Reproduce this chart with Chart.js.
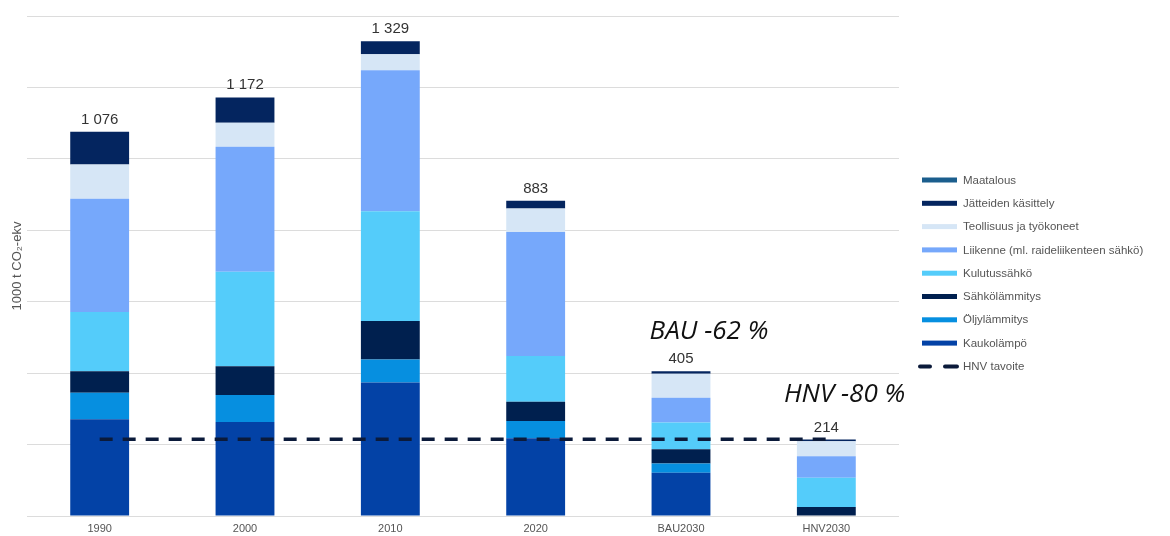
<!DOCTYPE html>
<html>
<head>
<meta charset="utf-8">
<script src="https://cdn.jsdelivr.net/npm/chart.js@4"></script>
<style>
html,body{margin:0;padding:0;background:#fff;}
#wrap{width:1170px;height:536px;position:relative;}
</style>
</head>
<body>
<div id="wrap"><canvas id="c" width="1170" height="536"></canvas></div>
<script>
// ---- data ----
const categories = ['1990', '2000', '2010', '2020', 'BAU2030', 'HNV2030'];
const kaukolampo   = [271, 263, 374, 218, 121, 0];
const oljylammitys = [74, 76, 64, 48, 26, 0];
const sahkolammitys= [60, 80, 108, 54, 40, 25];
const kulutussahko = [166, 265, 307, 128, 75, 82];
const liikenne     = [317, 350, 395, 347, 69, 60];
const teollisuus   = [96, 67, 45, 66, 67, 42];
const jatteiden    = [92, 71, 36, 22, 7, 5];
const maatalous    = [0, 0, 0, 0, 0, 0];
const hnvTavoite   = [215, 215, 215, 215, 215, 215];
const totals       = [1076, 1172, 1329, 883, 405, 214];
const totalLabels  = ['1 076', '1 172', '1 329', '883', '405', '214'];
const yTicks       = [0, 200, 400, 600, 800, 1000, 1200, 1400];
const annotations  = ['BAU -62 %', 'HNV -80 %'];

const FONT = '"Liberation Sans", Arial, sans-serif';

const series = [
  {label: 'Kaukolämpö', data: kaukolampo, color: '#0342a6'},
  {label: 'Öljylämmitys', data: oljylammitys, color: '#068fe0'},
  {label: 'Sähkölämmitys', data: sahkolammitys, color: '#00204f'},
  {label: 'Kulutussähkö', data: kulutussahko, color: '#54ccfa'},
  {label: 'Liikenne (ml. raideliikenteen sähkö)', data: liikenne, color: '#76a8fb'},
  {label: 'Teollisuus ja työkoneet', data: teollisuus, color: '#d6e6f6'},
  {label: 'Jätteiden käsittely', data: jatteiden, color: '#04255f'},
  {label: 'Maatalous', data: maatalous, color: '#1b5e8d'}
];

const datasets = series.map(s => ({
  type: 'bar',
  label: s.label,
  data: s.data,
  backgroundColor: s.color,
  borderWidth: 0,
  barPercentage: 0.81,
  categoryPercentage: 0.5,
  stack: 'a',
  order: 2
}));
datasets.push({
  type: 'line',
  label: 'HNV tavoite',
  data: hnvTavoite,
  borderColor: '#0b1a3a',
  borderWidth: 3.5,
  borderDash: [13, 10],
  pointRadius: 0,
  fill: false,
  order: 0
});

const totalsPlugin = {
  id: 'totals',
  afterDatasetsDraw(chart) {
    const ctx = chart.ctx;
    const x = chart.scales.x, y = chart.scales.y;
    ctx.save();
    ctx.font = '15px ' + FONT;
    ctx.fillStyle = '#333333';
    ctx.textAlign = 'center';
    ctx.textBaseline = 'alphabetic';
    totals.forEach((t, i) => {
      ctx.fillText(totalLabels[i], x.getPixelForValue(i), y.getPixelForValue(t) - 8);
    });
    // annotations
    ctx.font = 'italic 26px "Open Sans", ' + FONT;
    ctx.fillStyle = '#111111';
    ctx.textAlign = 'left';
    const bw = chart.getDatasetMeta(0).data[4].width;
    ctx.fillText(annotations[0], x.getPixelForValue(4) - bw / 2 - 2, y.getPixelForValue(497));
    ctx.fillText(annotations[1], x.getPixelForValue(5) - bw / 2 - 13, y.getPixelForValue(318));
    ctx.restore();
  }
};

const legendPlugin = {
  id: 'customLegend',
  afterDraw(chart) {
    const ctx = chart.ctx;
    const ca = chart.chartArea;
    const x0 = ca.right + 23;
    let yy = 180;
    const step = 23.3;
    ctx.save();
    ctx.font = '11.5px ' + FONT;
    ctx.fillStyle = '#555555';
    ctx.textBaseline = 'middle';
    const items = series.slice().reverse();
    items.forEach(s => {
      ctx.fillStyle = s.color;
      ctx.fillRect(x0, yy - 2.5, 35, 5);
      ctx.fillStyle = '#555555';
      ctx.fillText(s.label, x0 + 41, yy + 0.5);
      yy += step;
    });
    ctx.strokeStyle = '#0b1a3a';
    ctx.lineWidth = 4;
    ctx.lineCap = 'round';
    ctx.beginPath(); ctx.moveTo(x0 - 2, yy); ctx.lineTo(x0 + 8, yy); ctx.stroke();
    ctx.beginPath(); ctx.moveTo(x0 + 23, yy); ctx.lineTo(x0 + 35, yy); ctx.stroke();
    ctx.fillStyle = '#555555';
    ctx.fillText('HNV tavoite', x0 + 41, yy + 0.5);
    ctx.restore();
  }
};

new Chart(document.getElementById('c'), {
  data: {labels: categories, datasets: datasets},
  options: {
    responsive: false,
    animation: false,
    layout: {padding: {top: 16, right: 271, left: 0, bottom: 0}},
    plugins: {legend: {display: false}, tooltip: {enabled: false}},
    scales: {
      x: {
        stacked: true,
        grid: {display: false, drawTicks: false},
        border: {display: false},
        ticks: {font: {family: FONT, size: 11}, color: '#555555', padding: 6, maxRotation: 0},
        afterFit(s) { s.height = 20; }
      },
      y: {
        stacked: true,
        min: 0, max: 1400,
        afterBuildTicks(s) { s.ticks = yTicks.map(v => ({value: v})); },
        ticks: {display: false},
        grid: {color: '#dcdcdc', lineWidth: 1, drawTicks: false},
        border: {display: false},
        title: {display: true, text: '1000 t CO₂-ekv', font: {family: FONT, size: 13}, color: '#555555', padding: {top: 10, bottom: 0}},
        afterFit(s) { s.width = 27; }
      }
    }
  },
  plugins: [totalsPlugin, legendPlugin]
});
</script>
</body>
</html>
